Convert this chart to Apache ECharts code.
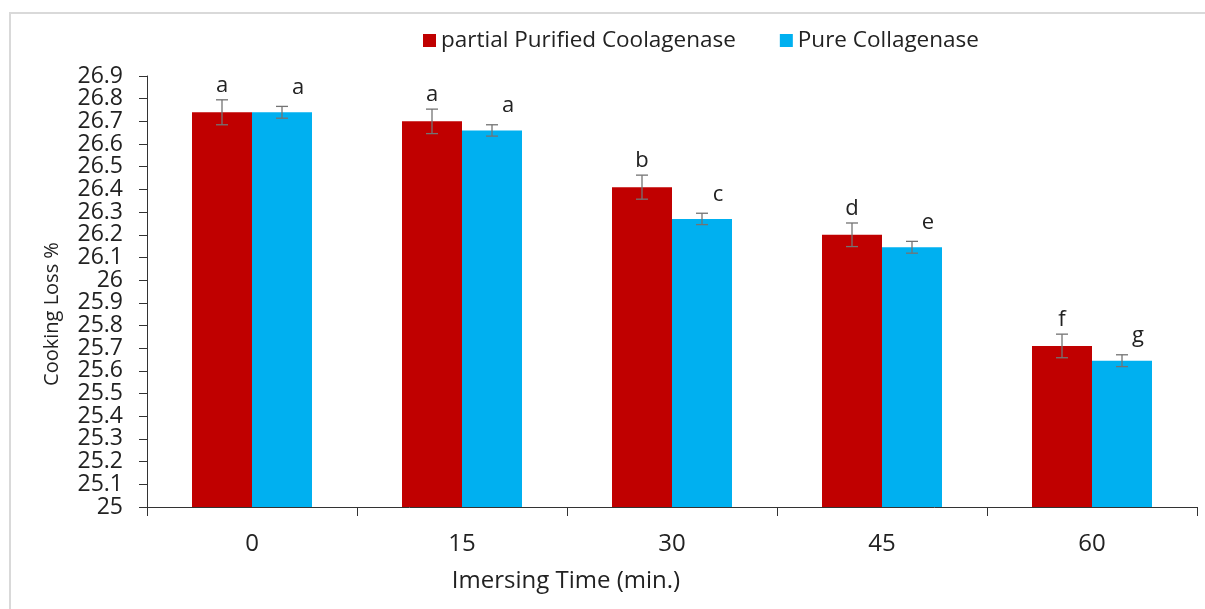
<!DOCTYPE html>
<html>
<head>
<meta charset="utf-8">
<script src="https://cdn.jsdelivr.net/npm/echarts@6/dist/echarts.min.js"></script>
<style>
html,body{margin:0;padding:0;background:#fff;}
#chart{width:1205px;height:609px;}
</style>
</head>
<body>
<div id="chart"></div>
<script>
// ---- data ----
const categories = ['0', '15', '30', '45', '60'];
const seriesNames = ['partial Purified Coolagenase', 'Pure Collagenase'];
const partialValues = [26.74, 26.70, 26.41, 26.20, 25.71];
const partialErrors = [0.055, 0.054, 0.053, 0.052, 0.052];
const partialLetters = ['a', 'a', 'b', 'd', 'f'];
const pureValues = [26.74, 26.66, 26.27, 26.145, 25.645];
const pureErrors = [0.026, 0.025, 0.025, 0.026, 0.026];
const pureLetters = ['a', 'a', 'c', 'e', 'g'];
const yMin = 25, yMax = 26.9, yStep = 0.1;
const yTickLabels = ['25', '25.1', '25.2', '25.3', '25.4', '25.5', '25.6', '25.7', '25.8', '25.9',
                     '26', '26.1', '26.2', '26.3', '26.4', '26.5', '26.6', '26.7', '26.8', '26.9'];

// ---- style ----
const FONT = 'Open Sans';
const RED = '#C00000', BLUE = '#00B0F0';
const BAR_W = 60;

const chart = echarts.init(document.getElementById('chart'), null, {renderer: 'canvas'});

function errSeries(values, errors, letters, side, labelDx, labelDy) {
  return {
    type: 'custom',
    silent: true,
    z: 5,
    data: values.map((v, i) => [i, v, errors[i], letters[i]]),
    encode: {x: 0, y: 1},
    renderItem: function (params, api) {
      const i = api.value(0), v = api.value(1), e = api.value(2);
      const letter = letters[params.dataIndex];
      const c = api.coord([i, v]);
      const x = c[0] + side * BAR_W / 2;
      const yTop = api.coord([i, v + e])[1];
      const yBot = api.coord([i, v - e])[1];
      const cap = 6;
      const st = {stroke: '#737373', lineWidth: 1.3};
      return {
        type: 'group',
        children: [
          {type: 'line', shape: {x1: x, y1: yTop, x2: x, y2: yBot}, style: st},
          {type: 'line', shape: {x1: x - cap, y1: yTop, x2: x + cap, y2: yTop}, style: st},
          {type: 'line', shape: {x1: x - cap, y1: yBot, x2: x + cap, y2: yBot}, style: st},
          {type: 'text', style: {
            text: letter, x: x + labelDx, y: yTop + labelDy,
            align: 'center', verticalAlign: 'middle',
            fontSize: 22, fontFamily: FONT, fill: '#222'
          }}
        ]
      };
    }
  };
}

const option = {
  animation: false,
  backgroundColor: '#fff',
  textStyle: {fontFamily: FONT},
  grid: {left: 147, right: 8, top: 76, bottom: 102, containLabel: false},
  legend: {
    left: 418, top: 24,
    icon: 'rect', itemWidth: 13, itemHeight: 13, itemGap: 44,
    textStyle: {fontSize: 22.5, color: '#222', fontFamily: FONT},
    data: seriesNames
  },
  title: {
    text: 'Imersing Time (min.)',
    left: 561, top: 564, textAlign: 'center',
    textStyle: {fontSize: 24, fontWeight: 'normal', color: '#222', fontFamily: FONT}
  },
  graphic: [
    {type: 'rect', shape: {x: 10, y: 13, width: 1300, height: 700},
     style: {fill: 'none', stroke: '#d9d9d9', lineWidth: 2}, silent: true, z: -1},
    {type: 'text', x: 52, y: 314, rotation: Math.PI / 2,
     style: {text: 'Cooking Loss %', fontSize: 20, fontFamily: FONT, fill: '#222',
             align: 'center', verticalAlign: 'middle'}}
  ],
  xAxis: {
    type: 'category',
    data: categories,
    axisLine: {lineStyle: {color: '#333', width: 1}},
    axisTick: {show: true, length: 9, lineStyle: {color: '#333', width: 1}},
    axisLabel: {fontSize: 24, color: '#222', margin: 25, fontFamily: FONT}
  },
  yAxis: {
    type: 'value',
    min: yMin, max: yMax, interval: yStep,
    axisLine: {show: true, lineStyle: {color: '#333', width: 1}},
    axisTick: {show: true, length: 8, lineStyle: {color: '#333', width: 1}},
    splitLine: {show: false},
    axisLabel: {show: false}
  },
  series: [
    {name: seriesNames[0], type: 'bar', data: partialValues, barWidth: BAR_W, barGap: '0%',
     itemStyle: {color: RED}},
    {name: seriesNames[1], type: 'bar', data: pureValues, barWidth: BAR_W, barGap: '0%',
     itemStyle: {color: BLUE}},
    errSeries(partialValues, partialErrors, partialLetters, -1, 0, -14),
    errSeries(pureValues, pureErrors, pureLetters, 1, 16, -19),
    {
      type: 'custom', silent: true, clip: false,
      data: yTickLabels.map(t => [0, Number(t), t]),
      encode: {x: 0, y: 1},
      renderItem: function (params, api) {
        const y = api.coord([0, api.value(1)])[1];
        return {type: 'text', style: {
          text: yTickLabels[params.dataIndex], x: params.coordSys.x - 24, y: y,
          align: 'right', verticalAlign: 'middle',
          fontSize: 23, fontFamily: FONT, fill: '#222'
        }};
      }
    }
  ]
};
chart.setOption(option);
</script>
</body>
</html>
